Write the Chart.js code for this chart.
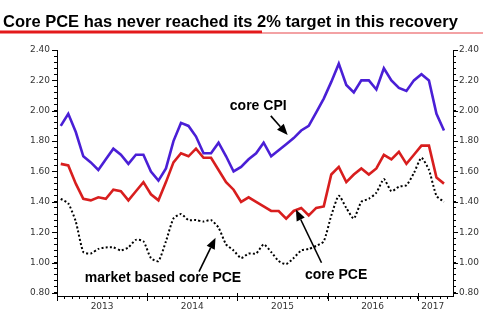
<!DOCTYPE html>
<html>
<head>
<meta charset="utf-8">
<script src="https://cdn.jsdelivr.net/npm/chart.js@4"></script>
<style>
  html, body { margin: 0; padding: 0; background: #fff; }
  #wrap { width: 499px; height: 332px; }
</style>
</head>
<body>
<div id="wrap"><canvas id="c" width="499" height="332"></canvas></div>
<script>
// Monthly data, Jan 2013 .. Apr 2017 (year-over-year %)
const months = [];
for (let y = 2013; y <= 2017; y++) for (let m = 1; m <= 12; m++) if (!(y === 2017 && m > 4)) months.push(y + '-' + String(m).padStart(2, '0'));

const coreCPI = [1.90,1.98,1.86,1.70,1.66,1.61,1.68,1.75,1.71,1.65,1.71,1.71,
                 1.60,1.54,1.62,1.80,1.92,1.90,1.83,1.72,1.72,1.79,1.70,1.60,
                 1.63,1.68,1.72,1.79,1.70,1.74,1.78,1.82,1.87,1.90,1.99,2.08,
                 2.19,2.31,2.17,2.12,2.20,2.20,2.14,2.28,2.20,2.15,2.13,2.20,
                 2.24,2.20,1.98,1.87];
const corePCE = [1.65,1.64,1.52,1.42,1.41,1.43,1.42,1.48,1.47,1.41,1.47,1.53,
                 1.45,1.41,1.53,1.66,1.72,1.70,1.75,1.69,1.69,1.61,1.53,1.48,
                 1.40,1.43,1.40,1.37,1.34,1.34,1.29,1.34,1.36,1.31,1.36,1.37,
                 1.58,1.63,1.53,1.58,1.62,1.58,1.62,1.71,1.68,1.73,1.65,1.71,
                 1.77,1.77,1.56,1.52];
const marketPCE = [1.42,1.39,1.27,1.07,1.06,1.09,1.10,1.10,1.08,1.10,1.15,1.14,
                   1.03,1.01,1.14,1.29,1.32,1.28,1.28,1.27,1.28,1.23,1.12,1.08,
                   1.03,1.06,1.06,1.12,1.07,1.01,0.99,1.03,1.08,1.09,1.11,1.14,
                   1.31,1.44,1.36,1.29,1.40,1.42,1.46,1.55,1.47,1.50,1.51,1.59,
                   1.69,1.61,1.44,1.40];

const yearLabels = ['2013','2014','2015','2016','2017'];
const yTickLabels = ['0.80','1.00','1.20','1.40','1.60','1.80','2.00','2.20','2.40'];

const titleText = 'Core PCE has never reached its 2% target in this recovery';

// annotations in data units (month index, percent)
const notes = [
  { text: 'core CPI', x: 22.5, y: 2.005, from: [27.95, 1.966], to: [30.2, 1.84] },
  { text: 'market based core PCE', x: 3.2, y: 0.87, from: [18.4, 0.94], to: [20.6, 1.163] },
  { text: 'core PCE', x: 32.5, y: 0.893, from: [34.7, 0.999], to: [31.3, 1.349] }
];

const toPts = arr => arr.map((v, i) => ({ x: i, y: v }));

const BOLD = 'bold 14px "Liberation Sans", Arial, sans-serif';

const decor = {
  id: 'decor',
  afterDraw(chart) {
    const ctx = chart.ctx;
    const xs = chart.scales.x, yl = chart.scales.y;
    ctx.save();
    // title
    ctx.fillStyle = '#000';
    ctx.font = 'bold 16.5px "Liberation Sans", Arial, sans-serif';
    ctx.textBaseline = 'alphabetic';
    ctx.textAlign = 'left';
    ctx.fillText(titleText, 3, 27);
    ctx.fillStyle = '#e3191b';
    ctx.fillRect(0, 30.5, 262, 3);
    ctx.fillStyle = '#e8464a';
    ctx.fillRect(262, 32.5, 221, 1);

    // major y ticks (longer)
    ctx.strokeStyle = '#000';
    ctx.lineWidth = 1;
    yTickLabels.forEach(l => {
      const v = parseFloat(l);
      const py = Math.round(yl.getPixelForValue(v)) + 0.5;
      ctx.beginPath();
      ctx.moveTo(chart.chartArea.left - 5, py); ctx.lineTo(chart.chartArea.left, py);
      ctx.moveTo(chart.chartArea.right, py); ctx.lineTo(chart.chartArea.right + 5, py);
      ctx.stroke();
    });
    // year boundary ticks
    [-0.5, 11.5, 23.5, 35.5, 47.5].forEach(v => {
      const px = Math.round(xs.getPixelForValue(v)) + 0.5;
      ctx.beginPath();
      ctx.moveTo(px, chart.chartArea.bottom - 3); ctx.lineTo(px, chart.chartArea.bottom + 5);
      ctx.stroke();
    });

    // annotations
    ctx.font = BOLD;
    ctx.fillStyle = '#000';
    notes.forEach(n => {
      ctx.fillText(n.text, xs.getPixelForValue(n.x), yl.getPixelForValue(n.y));
      const x1 = xs.getPixelForValue(n.from[0]), y1 = yl.getPixelForValue(n.from[1]);
      const x2 = xs.getPixelForValue(n.to[0]), y2 = yl.getPixelForValue(n.to[1]);
      const ang = Math.atan2(y2 - y1, x2 - x1);
      const hl = 11, hw = 4.5;
      const bx = x2 - hl * Math.cos(ang), by = y2 - hl * Math.sin(ang);
      ctx.lineWidth = 1.6;
      ctx.beginPath(); ctx.moveTo(x1, y1); ctx.lineTo(bx, by); ctx.stroke();
      ctx.beginPath();
      ctx.moveTo(x2, y2);
      ctx.lineTo(bx + hw * Math.sin(ang), by - hw * Math.cos(ang));
      ctx.lineTo(bx - hw * Math.sin(ang), by + hw * Math.cos(ang));
      ctx.closePath(); ctx.fill();
    });
    ctx.restore();
  }
};

const yTicks = () => { const t = []; for (let k = 0; k <= 40; k++) t.push({ value: +(0.80 + k * 0.04).toFixed(2) }); return t; };
const yLabel = v => { const s = v.toFixed(2); return yTickLabels.includes(s) ? s : ''; };
const xTickPos = { '5.5': yearLabels[0], '17.5': yearLabels[1], '29.5': yearLabels[2], '41.5': yearLabels[3], '49.5': yearLabels[4] };

const axisCommon = {
  min: 0.78, max: 2.40,
  grid: { display: true, drawOnChartArea: false, drawTicks: true, tickLength: 3, color: '#000', lineWidth: 1 },
  border: { display: true, color: '#000', width: 1 },
  afterBuildTicks: s => { s.ticks = yTicks(); },
};

new Chart(document.getElementById('c'), {
  type: 'line',
  data: {
    datasets: [
      { label: 'core CPI', data: toPts(coreCPI), borderColor: '#4a1fd6', borderWidth: 2.6, pointRadius: 0, tension: 0, yAxisID: 'y' },
      { label: 'core PCE', data: toPts(corePCE), borderColor: '#d81e1e', borderWidth: 2.6, pointRadius: 0, tension: 0, yAxisID: 'y' },
      { label: 'market based core PCE', data: toPts(marketPCE), borderColor: '#000', borderWidth: 2, borderDash: [2, 2.2], pointRadius: 0, tension: 0.2, yAxisID: 'y' }
    ]
  },
  options: {
    responsive: false,
    animation: false,
    events: [],
    layout: { padding: { top: 50, left: 0, right: 0, bottom: 0 } },
    plugins: { legend: { display: false }, title: { display: false }, tooltip: { enabled: false } },
    scales: {
      x: {
        type: 'linear', min: -0.5, max: 52.2,
        grid: { display: true, drawOnChartArea: false, drawTicks: true, tickLength: 3, color: '#000' },
        border: { display: true, color: '#000', width: 1 },
        afterBuildTicks: s => { const t = []; for (let k = 0; k <= 52; k++) t.push({ value: -0.5 + k }); s.ticks = t; },
        afterFit: s => { s.height = 36; },
        ticks: {
          autoSkip: false, maxRotation: 0, minRotation: 0, padding: 2,
          color: '#333', font: { family: '"DejaVu Sans", sans-serif', size: 9 },
          callback: v => xTickPos[String(v)] || ''
        }
      },
      y: Object.assign({}, axisCommon, {
        position: 'left',
        afterFit: s => { s.width = 57; },
        ticks: { autoSkip: false, padding: 4, color: '#333', font: { family: '"DejaVu Sans", sans-serif', size: 9 }, callback: yLabel }
      }),
      y2: Object.assign({}, axisCommon, {
        position: 'right',
        afterFit: s => { s.width = 46; },
        ticks: { autoSkip: false, padding: 3, color: '#333', font: { family: '"DejaVu Sans", sans-serif', size: 9 }, callback: yLabel }
      })
    }
  },
  plugins: [decor]
});
</script>
</body>
</html>
